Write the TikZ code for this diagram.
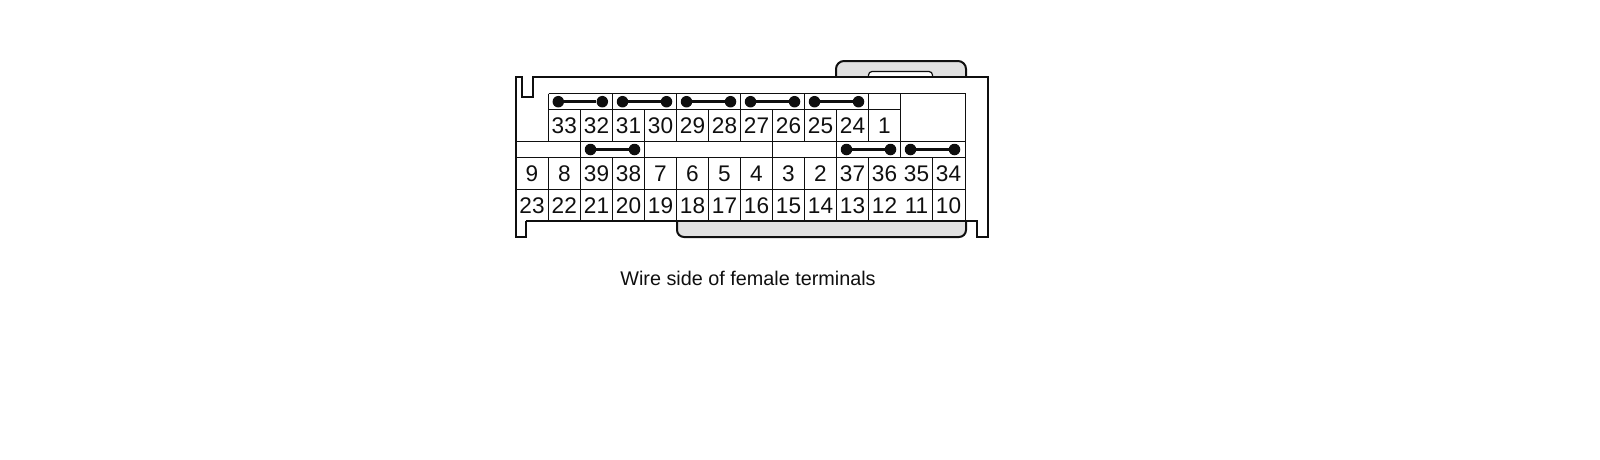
\documentclass[tikz,border=0pt]{standalone}
\usepackage{fontspec}
\setmainfont{Liberation Sans}
\definecolor{shell}{RGB}{224,224,224}
\definecolor{ink}{RGB}{15,15,15}
\tikzset{
  outline/.style={draw=ink,line width=2pt},
  grid/.style={draw=ink,line width=1.2pt},
  num/.style={font=\fontsize{22.6}{26}\selectfont,text=ink,inner sep=0pt,anchor=base},
  pin/.style={circle,fill=ink,draw=none,minimum size=11.5pt,inner sep=0pt},
  jumper/.style={draw=ink,line width=2.5pt},
  caption/.style={font=\fontsize{19.8}{24}\selectfont,text=ink,inner sep=0pt}
}
\begin{document}
\begin{tikzpicture}[x=1pt,y=-1pt]
\useasboundingbox (0,0) rectangle (1600,459);
% upper tab
\filldraw[fill=shell,outline,rounded corners=8pt] (836,77) -- (836,61) -- (966,61) -- (966,77);
\filldraw[fill=white,draw=ink,line width=1.2pt,rounded corners=3.5pt] (868.5,77) -- (868.5,71.5) -- (932.5,71.5) -- (932.5,77);
% lower tab
\filldraw[fill=shell,outline,rounded corners=7pt] (677,221) -- (677,237) -- (966,237) -- (966,221);
% shell outline
\draw[outline,line join=miter] (526,221) -- (526,237) -- (516,237) -- (516,77) -- (522,77) -- (522,97) -- (533,97) -- (533,77) -- (988,77) -- (988,237) -- (977,237) -- (977,221) -- (526,221);
% cavity grid
\draw[grid]
 (548.5,93.5) -- (965.5,93.5)
 (548.5,109.5) -- (900.5,109.5)
 (516.5,141.5) -- (965.5,141.5)
 (516.5,157.5) -- (965.5,157.5)
 (516.5,189.5) -- (965.5,189.5)
 (548.5,93.5) -- (548.5,141.5)
 (612.5,93.5) -- (612.5,141.5)
 (676.5,93.5) -- (676.5,141.5)
 (740.5,93.5) -- (740.5,141.5)
 (804.5,93.5) -- (804.5,141.5)
 (868.5,93.5) -- (868.5,141.5)
 (900.5,93.5) -- (900.5,157.5)
 (965.5,93.5) -- (965.5,221.5)
 (580.5,109.5) -- (580.5,221.5)
 (644.5,109.5) -- (644.5,221.5)
 (708.5,109.5) -- (708.5,141.5)
 (772.5,109.5) -- (772.5,221.5)
 (836.5,109.5) -- (836.5,221.5)
 (548.5,157.5) -- (548.5,221.5)
 (612.5,157.5) -- (612.5,221.5)
 (676.5,157.5) -- (676.5,221.5)
 (708.5,157.5) -- (708.5,221.5)
 (740.5,157.5) -- (740.5,221.5)
 (804.5,157.5) -- (804.5,221.5)
 (868.5,157.5) -- (868.5,221.5)
 (932.5,157.5) -- (932.5,221.5);
% terminal numbers
\foreach \n/\x in {33/564.3,32/596.5,31/628.5,30/660.5,29/692.5,28/724.5,27/756.5,26/788.5,25/820.5,24/852.5,1/884.5}
  \node[num] (t\n) at (\x,133.5) {\n};
\foreach \n/\x in {9/532,8/564.3,39/596.5,38/628.5,7/660.5,6/692.5,5/724.5,4/756.5,3/788.5,2/820.5,37/852.5,36/884.5,35/916.5,34/948.5}
  \node[num] (t\n) at (\x,181.5) {\n};
\foreach \n/\x in {23/532,22/564.3,21/596.5,20/628.5,19/660.5,18/692.5,17/724.5,16/756.5,15/788.5,14/820.5,13/852.5,12/884.5,11/916.5,10/948.5}
  \node[num] (t\n) at (\x,213.5) {\n};
% jumpers
\foreach \i/\a/\b/\y in {1/558.3/602.3/101.7,2/622.5/666.5/101.7,3/686.5/730.5/101.7,4/750.5/794.5/101.7,5/814.5/858.5/101.7,6/590.5/634.5/149.5,7/846.5/890.5/149.5,8/910.5/954.5/149.5}{
  \node[pin] (ja\i) at (\a,\y) {};
  \node[pin] (jb\i) at (\b,\y) {};
  \draw[jumper] (ja\i) -- (jb\i);
}
\node[caption] (cap) at (748,278.5) {Wire side of female terminals};
\end{tikzpicture}
\end{document}
